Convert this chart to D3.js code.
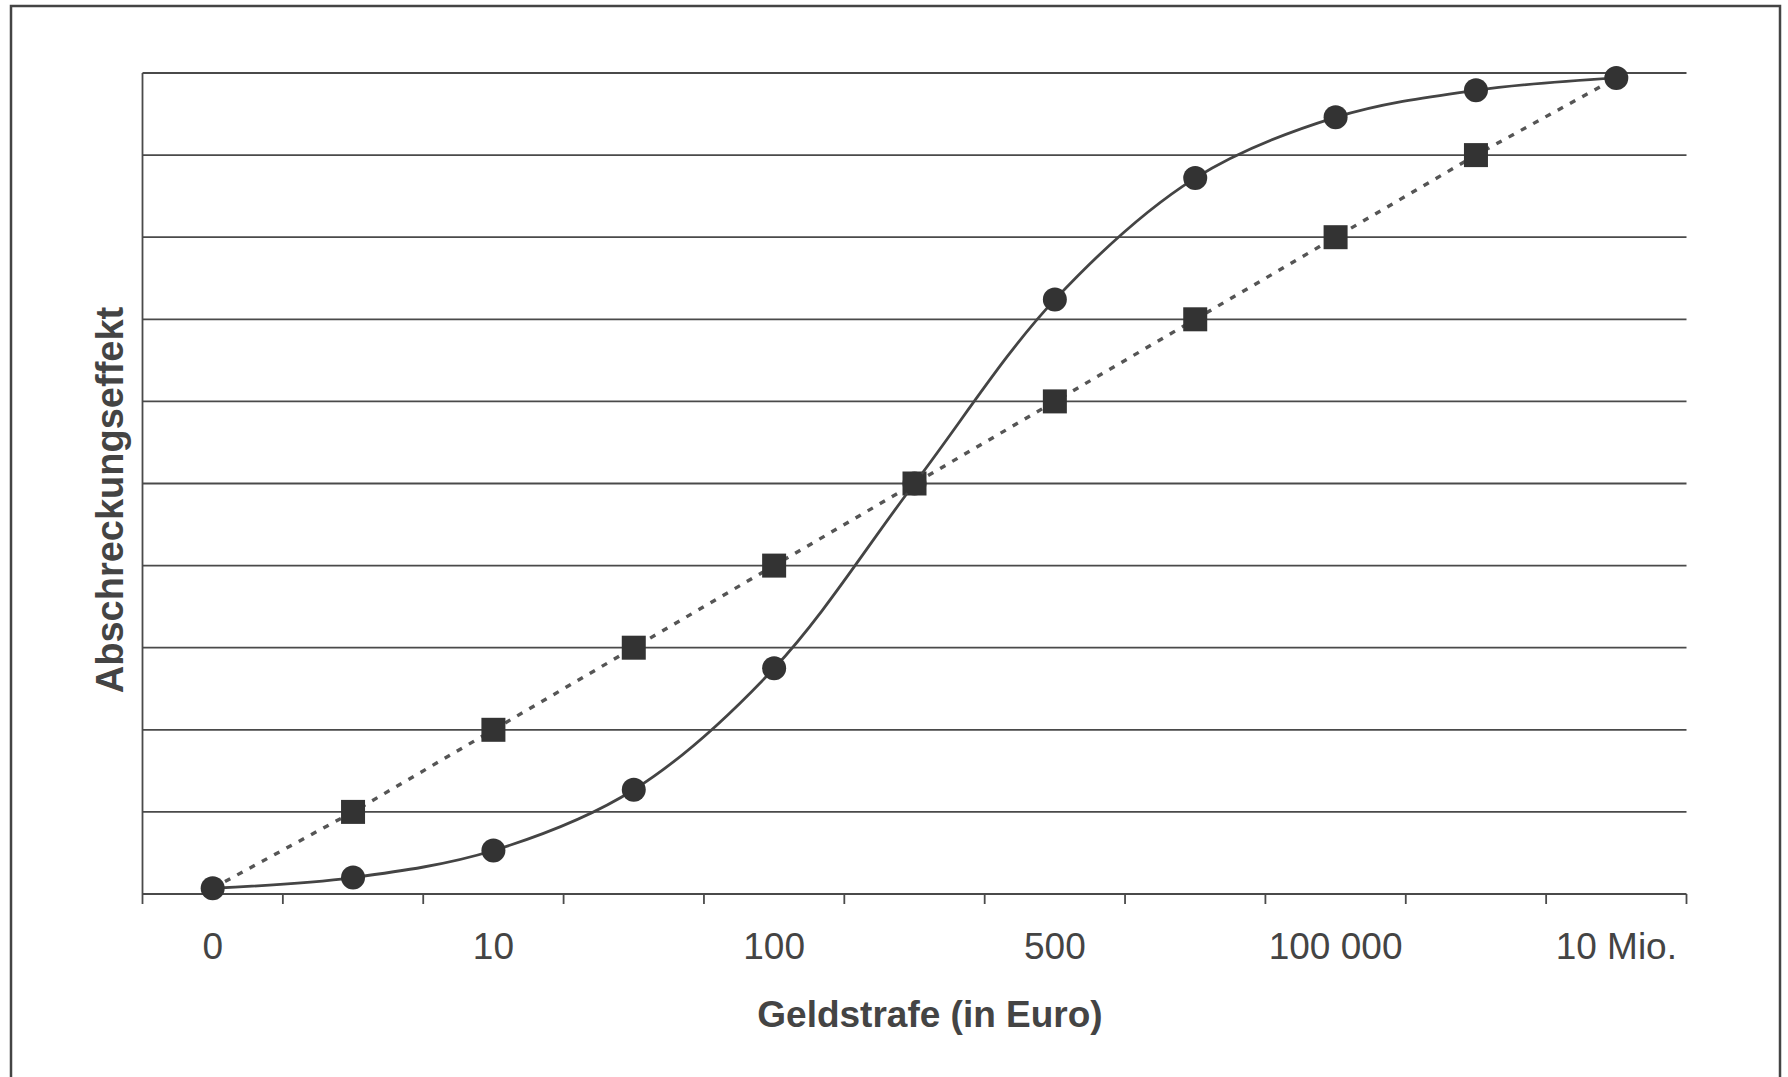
<!DOCTYPE html>
<html>
<head>
<meta charset="utf-8">
<script src="https://cdn.jsdelivr.net/npm/d3@7"></script>
<style>
  html, body { margin: 0; padding: 0; background: #fff; }
  svg { display: block; }
  text { font-family: "Liberation Sans", Arial, sans-serif; }
</style>
</head>
<body>
<svg id="chart" width="1788" height="1077"></svg>
<script>
// ---- data ----
const categories = [0, 1, 2, 3, 4, 5, 6, 7, 8, 9, 10];
const tickLabels = ["0", "", "10", "", "100", "", "500", "", "100 000", "", "10 Mio."];
const circleValues = [0.07, 0.2, 0.53, 1.27, 2.75, 5.0, 7.24, 8.72, 9.46, 9.79, 9.94];
const squareValues = [0.07, 1, 2, 3, 4, 5, 6, 7, 8, 9, 9.94];
const squareMarkerShown = [false, true, true, true, true, true, true, true, true, true, false];
const yTicks = [0, 1, 2, 3, 4, 5, 6, 7, 8, 9, 10];
const xTitle = "Geldstrafe (in Euro)";
const yTitle = "Abschreckungseffekt";

// ---- layout ----
const svg = d3.select("#chart");
const plot = { left: 142.5, top: 73, right: 1686.5, bottom: 894 };

const x = d3.scaleBand().domain(categories).range([plot.left, plot.right]).padding(0);
const y = d3.scaleLinear().domain([0, 10]).range([plot.bottom, plot.top]);
const cx = i => x(i) + x.bandwidth() / 2;

// outer frame
svg.append("rect")
  .attr("x", 11).attr("y", 6).attr("width", 1769).attr("height", 1080)
  .attr("fill", "none").attr("stroke", "#444").attr("stroke-width", 2.5);

// gridlines
svg.append("g").selectAll("line").data(yTicks).join("line")
  .attr("x1", plot.left).attr("x2", plot.right)
  .attr("y1", d => y(d)).attr("y2", d => y(d))
  .attr("stroke", "#4a4a4a").attr("stroke-width", 1.8);

// y axis line
svg.append("line")
  .attr("x1", plot.left).attr("x2", plot.left)
  .attr("y1", y(10)).attr("y2", y(0))
  .attr("stroke", "#4a4a4a").attr("stroke-width", 1.8);

// x axis ticks at band boundaries
const boundaries = categories.map(c => x(c)).concat([x.range()[1]]);
svg.append("g").selectAll("line").data(boundaries).join("line")
  .attr("x1", d => d).attr("x2", d => d)
  .attr("y1", plot.bottom).attr("y2", plot.bottom + 10)
  .attr("stroke", "#4a4a4a").attr("stroke-width", 1.8);

// x axis labels
const xAxis = d3.axisBottom(x).tickSize(0).tickPadding(0).tickFormat(i => tickLabels[i]);
const gx = svg.append("g").attr("transform", `translate(0,${plot.bottom})`).call(xAxis);
gx.select(".domain").remove();
gx.selectAll("text")
  .attr("y", 65).attr("dy", null)
  .attr("font-size", 37).attr("fill", "#444")
  .style("font-family", '"Liberation Sans", Arial, sans-serif');

// titles
svg.append("text")
  .attr("x", 930).attr("y", 1027)
  .attr("text-anchor", "middle")
  .attr("font-size", 37).attr("font-weight", "bold").attr("fill", "#444")
  .text(xTitle);
svg.append("text")
  .attr("transform", "translate(123,500) rotate(-90)")
  .attr("text-anchor", "middle")
  .attr("font-size", 38).attr("font-weight", "bold").attr("fill", "#444")
  .text(yTitle);

// dotted linear series
const lineStraight = d3.line().x((d, i) => cx(i)).y(d => y(d));
svg.append("path")
  .datum(squareValues)
  .attr("d", lineStraight)
  .attr("fill", "none").attr("stroke", "#555")
  .attr("stroke-width", 3.4).attr("stroke-dasharray", "6,8");

const sq = 24;
svg.append("g").selectAll("rect")
  .data(squareValues.map((v, i) => ({ v, i })).filter(d => squareMarkerShown[d.i]))
  .join("rect")
  .attr("x", d => cx(d.i) - sq / 2).attr("y", d => y(d.v) - sq / 2)
  .attr("width", sq).attr("height", sq)
  .attr("fill", "#333");

// smooth S-curve series
const lineSmooth = d3.line().x((d, i) => cx(i)).y(d => y(d)).curve(d3.curveCatmullRom.alpha(0.5));
svg.append("path")
  .datum(circleValues)
  .attr("d", lineSmooth)
  .attr("fill", "none").attr("stroke", "#444").attr("stroke-width", 2.8);

svg.append("g").selectAll("circle")
  .data(circleValues).join("circle")
  .attr("cx", (d, i) => cx(i)).attr("cy", d => y(d))
  .attr("r", 12).attr("fill", "#333");
</script>
</body>
</html>
